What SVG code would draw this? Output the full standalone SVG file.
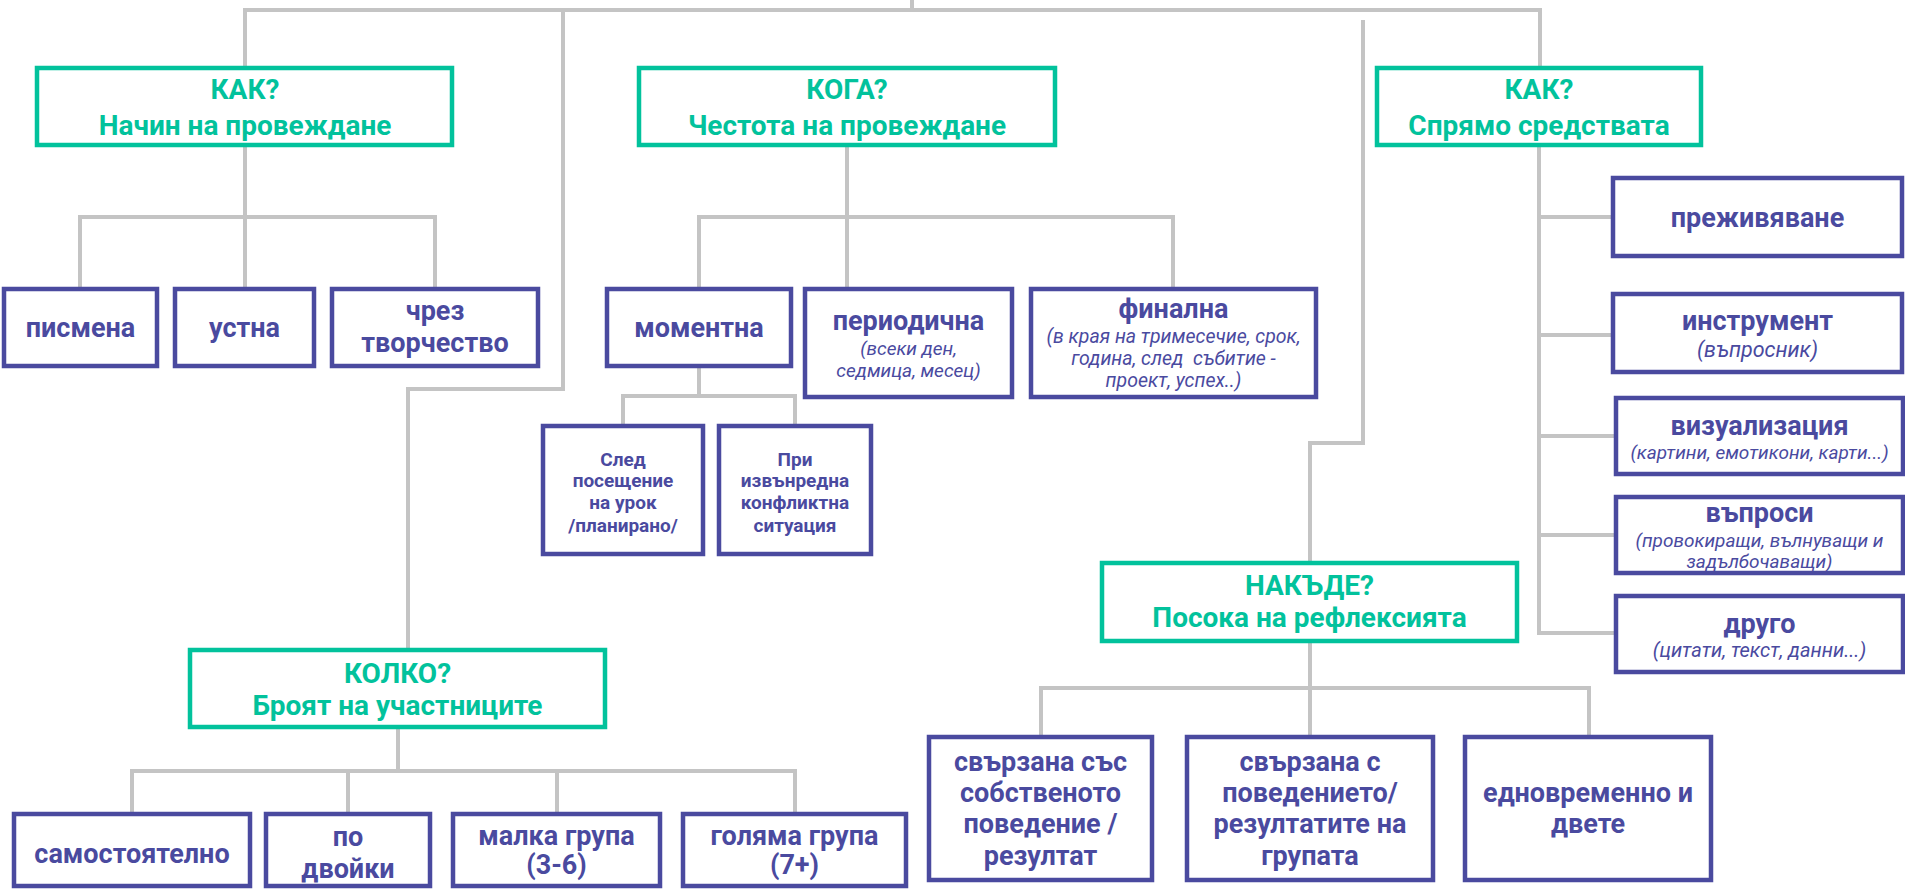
<svg xmlns="http://www.w3.org/2000/svg" width="1905" height="890" viewBox="0 0 1905 890">
<style>
.conn{fill:none;stroke:#c4c4c4;stroke-width:4}
.tb{fill:#fff;stroke:#02c29c;stroke-width:4.5}
.pb{fill:#fff;stroke:#4a4a9f;stroke-width:4.5}
text{font-family:Roboto,"Liberation Sans",sans-serif;text-anchor:middle;font-weight:700}
.th{font-size:28px;fill:#02c29c}
.pt{font-size:27px;fill:#4a4a9f}
.sm{font-size:19px;fill:#4a4a9f}
.it{font-size:19px;font-style:italic;font-weight:400;fill:#4a4a9f}
</style>
<rect width="1905" height="890" fill="#fff"/>
<g id="connectors" class="conn">
<path d="M912,0 V10"/>
<path d="M245,67 V10 H1540 V67"/>
<path d="M563,12 V389 H408 V650"/>
<path d="M1363,20 V443 H1310 V563"/>
<path d="M245,145 V288 M80,288 V217 H435 V288"/>
<path d="M847,145 V288 M699,288 V217 H1173 V288"/>
<path d="M699,366 V396 M623,426 V396 H795 V426"/>
<path d="M1539,145 V633 H1616 M1539,217 H1613 M1539,335 H1613 M1539,436 H1616 M1539,535 H1616"/>
<path d="M398,727 V771 M132,814 V771 H795 V814 M348,771 V814 M557,771 V814"/>
<path d="M1310,641 V737 M1041,737 V688 H1589 V737"/>
</g>
<g id="kak1"><rect class="tb" x="37" y="68" width="415" height="77"/><text class="th" x="245" y="99">КАК?</text><text class="th" x="245" y="135">Начин на провеждане</text></g>
<g id="koga"><rect class="tb" x="639" y="68" width="416" height="77"/><text class="th" x="847" y="99">КОГА?</text><text class="th" x="847" y="135">Честота на провеждане</text></g>
<g id="kak2"><rect class="tb" x="1377" y="68" width="324" height="77"/><text class="th" x="1539" y="99">КАК?</text><text class="th" x="1539" y="135">Спрямо средствата</text></g>
<g id="pismena"><rect class="pb" x="4" y="289" width="153" height="77"/><text class="pt" x="80.5" y="337">писмена</text></g>
<g id="ustna"><rect class="pb" x="175" y="289" width="139" height="77"/><text class="pt" x="244.5" y="337">устна</text></g>
<g id="tvorchestvo"><rect class="pb" x="332" y="289" width="206" height="77"/><text class="pt" x="435" y="320">чрез</text><text class="pt" x="435" y="352">творчество</text></g>
<g id="momentna"><rect class="pb" x="607" y="289" width="184" height="77"/><text class="pt" x="699" y="337">моментна</text></g>
<g id="periodichna"><rect class="pb" x="805" y="289" width="207" height="108"/><text class="pt" x="908.5" y="330">периодична</text><text class="it" x="908.5" y="355">(всеки ден,</text><text class="it" x="908.5" y="377">седмица, месец)</text></g>
<g id="finalna"><rect class="pb" x="1031" y="289" width="285" height="108"/><text class="pt" x="1173.5" y="318">финална</text><text class="it" x="1173.5" y="343" style="font-size:19.5px">(в края на тримесечие, срок,</text><text class="it" x="1173.5" y="365" style="font-size:19.5px" xml:space="preserve">година, след  събитие -</text><text class="it" x="1173.5" y="387" style="font-size:19.5px">проект, успех..)</text></g>
<g id="sled"><rect class="pb" x="543" y="426" width="160" height="128"/><text class="sm" x="623" y="466">След</text><text class="sm" x="623" y="487">посещение</text><text class="sm" x="623" y="509">на урок</text><text class="sm" x="623" y="532">/планирано/</text></g>
<g id="pri"><rect class="pb" x="719" y="426" width="152" height="128"/><text class="sm" x="795" y="466">При</text><text class="sm" x="795" y="487">извънредна</text><text class="sm" x="795" y="509">конфликтна</text><text class="sm" x="795" y="532">ситуация</text></g>
<g id="prezhivyavane"><rect class="pb" x="1613" y="178" width="289" height="78"/><text class="pt" x="1757.5" y="227">преживяване</text></g>
<g id="instrument"><rect class="pb" x="1613" y="294" width="289" height="78"/><text class="pt" x="1757.5" y="330">инструмент</text><text class="it" x="1757.5" y="357" style="font-size:21.5px">(въпросник)</text></g>
<g id="vizualizacia"><rect class="pb" x="1616" y="398" width="287" height="76"/><text class="pt" x="1759.5" y="435">визуализация</text><text class="it" x="1759.5" y="459">(картини, емотикони, карти...)</text></g>
<g id="vaprosi"><rect class="pb" x="1616" y="497" width="287" height="76"/><text class="pt" x="1759.5" y="522">въпроси</text><text class="it" x="1759.5" y="547">(провокиращи, вълнуващи и</text><text class="it" x="1759.5" y="568">задълбочаващи)</text></g>
<g id="drugo"><rect class="pb" x="1616" y="596" width="287" height="76"/><text class="pt" x="1759.5" y="633">друго</text><text class="it" x="1759.5" y="657" style="font-size:20px">(цитати, текст, данни...)</text></g>
<g id="kolko"><rect class="tb" x="190" y="650" width="415" height="77"/><text class="th" x="397.5" y="683">КОЛКО?</text><text class="th" x="397.5" y="715">Броят на участниците</text></g>
<g id="nakade"><rect class="tb" x="1102" y="563" width="415" height="78"/><text class="th" x="1309.5" y="595">НАКЪДЕ?</text><text class="th" x="1309.5" y="627">Посока на рефлексията</text></g>
<g id="samostoyatelno"><rect class="pb" x="14" y="814" width="236" height="72"/><text class="pt" x="132" y="863">самостоятелно</text></g>
<g id="dvoyki"><rect class="pb" x="266" y="814" width="164" height="72"/><text class="pt" x="348" y="846">по</text><text class="pt" x="348" y="878">двойки</text></g>
<g id="malka"><rect class="pb" x="453" y="814" width="207" height="72"/><text class="pt" x="556.5" y="845">малка група</text><text class="pt" x="556.5" y="874">(3-6)</text></g>
<g id="golyama"><rect class="pb" x="683" y="814" width="223" height="72"/><text class="pt" x="794.5" y="845">голяма група</text><text class="pt" x="794.5" y="874">(7+)</text></g>
<g id="sobstveno"><rect class="pb" x="929" y="737" width="223" height="143"/><text class="pt" x="1040.5" y="771">свързана със</text><text class="pt" x="1040.5" y="802">собственото</text><text class="pt" x="1040.5" y="833">поведение /</text><text class="pt" x="1040.5" y="865">резултат</text></g>
<g id="grupata"><rect class="pb" x="1187" y="737" width="246" height="143"/><text class="pt" x="1310" y="771">свързана с</text><text class="pt" x="1310" y="802">поведението/</text><text class="pt" x="1310" y="833">резултатите на</text><text class="pt" x="1310" y="865">групата</text></g>
<g id="dvete"><rect class="pb" x="1465" y="737" width="246" height="143"/><text class="pt" x="1588" y="802">едновременно и</text><text class="pt" x="1588" y="833">двете</text></g>
</svg>
